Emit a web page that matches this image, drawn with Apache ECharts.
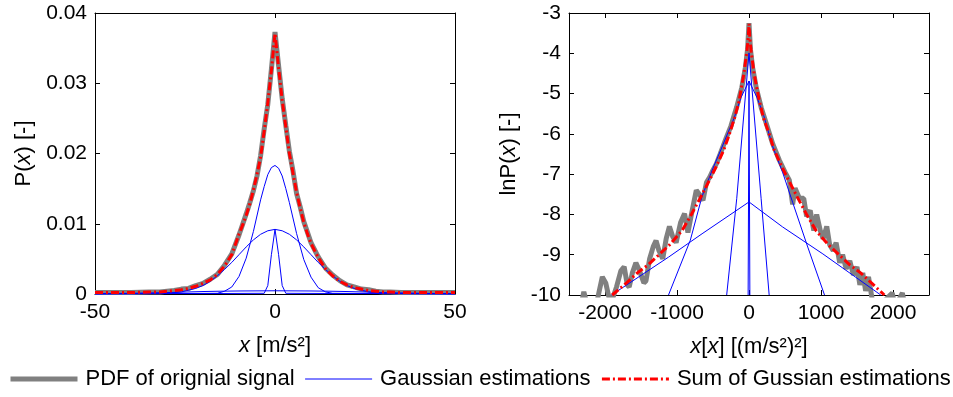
<!DOCTYPE html>
<html>
<head>
<meta charset="utf-8">
<script src="https://cdn.jsdelivr.net/npm/echarts@6/dist/echarts.min.js"></script>
<style>
html,body{margin:0;padding:0;background:#fff;}
#c{width:953px;height:397px;}
</style>
</head>
<body>
<div id="c"></div>
<script>
// ---------- Left panel: P(x) vs x [m/s²] ----------
var leftX   = [-50,-45,-40,-35,-32,-30,-28,-26,-24,-22,-20,-18,-16,-14,-12,-10,-9,-8,-7,-6,-5,-4,-3,-2,-1,0,1,2,3,4,5,6,7,8,9,10,12,14,16,18,20,22,24,26,28,30,32,35,40,45,50];
var leftSum = [0.0002,0.0002,0.0002,0.0003,0.0003,0.0004,0.0005,0.0006,0.0008,0.0011,0.0015,0.0020,0.0028,0.0040,0.0056,0.0085,0.0098,0.0112,0.0128,0.0148,0.0170,0.0195,0.0232,0.0272,0.0318,0.0371,0.0322,0.0276,0.0238,0.0200,0.0172,0.0145,0.0122,0.0102,0.0086,0.0072,0.0052,0.0036,0.0026,0.0018,0.0013,0.0009,0.0007,0.0005,0.0004,0.0003,0.0003,0.0002,0.0002,0.0002,0.0002];
var leftPdf = [0.0002,0.0002,0.0002,0.0003,0.0003,0.0004,0.0005,0.0007,0.0008,0.0012,0.0015,0.0021,0.0028,0.0041,0.0057,0.0084,0.0099,0.0114,0.0130,0.0147,0.0168,0.0197,0.0235,0.0270,0.0320,0.0373,0.0325,0.0278,0.0240,0.0203,0.0175,0.0143,0.0124,0.0103,0.0088,0.0073,0.0053,0.0037,0.0027,0.0019,0.0013,0.0010,0.0007,0.0006,0.0004,0.0003,0.0003,0.0002,0.0002,0.0002,0.0002];

var gaussCX = [-50,-16,-14,-12,-10,-8,-6,-4,-3,-2,-1,0,1,2,3,4,6,8,10,12,14,16,50];
var gaussCY = [0,0.0001,0.0004,0.0010,0.0025,0.0051,0.0089,0.0134,0.0153,0.0170,0.0180,0.0183,0.0179,0.0168,0.0150,0.0130,0.0086,0.0049,0.0024,0.0009,0.0003,0.0001,0];
var gaussBX = [-50,-30,-26,-22,-20,-18,-16,-14,-12,-10,-8,-6,-4,-2,0,2,4,6,8,10,12,14,16,18,20,22,26,30,50];
var gaussBY = [0,0.0001,0.0003,0.0008,0.0012,0.0018,0.0026,0.0035,0.0045,0.0056,0.0067,0.0077,0.0085,0.0090,0.0092,0.0090,0.0085,0.0077,0.0067,0.0056,0.0045,0.0035,0.0026,0.0018,0.0012,0.0008,0.0003,0.0001,0];
var gaussDX = [-50,-3,-2,-1,0,1,2,3,50];
var gaussDY = [0,0.0001,0.0012,0.0056,0.0092,0.0056,0.0012,0.0001,0];
var gaussAX = [-50,-40,-30,-25,-20,-15,-10,0,10,15,20,25,30,40,50];
var gaussAY = [0.00003,0.0001,0.0002,0.00028,0.00035,0.0004,0.00043,0.00046,0.00043,0.0004,0.00035,0.00028,0.0002,0.0001,0.00003];

// ---------- Right panel: lnP(x) vs x[x] [(m/s²)²] ----------
var rightSumX = [-1900,-1700,-1550,-1400,-1250,-1100,-930,-800,-650,-550,-460,-350,-280,-200,-140,-70,-30,-10,0,10,30,70,140,200,280,350,460,550,650,800,930,1100,1250,1400,1550,1700,1880];
var rightSumY = [-10,-9.7,-9.45,-9.25,-9.0,-8.75,-8.4,-8.0,-7.5,-7.15,-6.83,-6.4,-6.05,-5.6,-5.2,-4.5,-3.95,-3.6,-3.27,-3.6,-3.95,-4.5,-5.15,-5.6,-6.0,-6.4,-6.83,-7.15,-7.5,-8.0,-8.4,-8.75,-9.0,-9.25,-9.45,-9.7,-10];
var rightPdfX = [-2350,-2294,-2240,-2150,-2080,-2037,-1990,-1940,-1897,-1840,-1780,-1734,-1690,-1664,-1620,-1571,-1520,-1460,-1431,-1380,-1330,-1291,-1250,-1198,-1150,-1105,-1060,-1012,-950,-895,-848,-800,-732,-690,-639,-590,-545,-500,-452,-400,-312,-250,-172,-100,-50,-20,0,20,50,100,170,250,330,420,500,560,606,640,700,760,800,850,900,940,990,1030,1080,1120,1170,1210,1260,1300,1350,1400,1450,1500,1540,1580,1620,1660,1710,1780,1850,1990,2030,2130,2170,2250];
var rightPdfY = [-10.4,-9.92,-10.3,-10.5,-9.9,-9.55,-9.7,-10.1,-10.1,-9.8,-9.4,-9.3,-9.75,-9.8,-9.45,-9.2,-9.4,-9.7,-9.65,-9.1,-8.8,-8.65,-8.9,-9.1,-8.6,-8.3,-8.55,-8.7,-8.2,-7.98,-8.45,-8.0,-7.4,-7.5,-7.65,-7.2,-7.07,-6.9,-6.74,-6.5,-6.08,-5.8,-5.34,-4.85,-4.35,-3.9,-3.25,-3.9,-4.35,-4.85,-5.35,-5.8,-6.25,-6.65,-6.95,-7.15,-7.75,-7.35,-7.6,-7.6,-8.05,-7.9,-8.4,-8.0,-8.4,-8.6,-8.3,-8.75,-8.9,-8.7,-9.2,-9.0,-9.35,-9.15,-9.5,-9.3,-9.75,-9.45,-9.9,-9.55,-10.1,-10.3,-10.2,-9.95,-10.3,-9.95,-10.3,-10.5];
var lnAX = [-1910,-1118,-652,0,466,1026,1830];
var lnAY = [-10,-9.06,-8.48,-7.69,-8.31,-8.98,-10];
var lnBX = [-1118,-815,-652,-500,-392,-205,-112,0,112,205,326,466,606,816,1049];
var lnBY = [-10,-8.64,-7.55,-6.85,-6.4,-5.6,-5.1,-4.69,-5.1,-5.55,-6.3,-6.95,-7.7,-8.81,-10];
var lnCX = [-310,-170,0,168,280];
var lnCY = [-10,-7.6,-3.99,-7.6,-10];
var lnDX = [-12,0,12];
var lnDY = [-10,-4.69,-10];

var leftXTicks = [-50,0,50];
var leftYTicks = [0,0.01,0.02,0.03,0.04];
var rightXTicks = [-2000,-1000,0,1000,2000];
var rightYTicks = [-10,-9,-8,-7,-6,-5,-4,-3];

var names = ['PDF of orignial signal','Gaussian estimations','Sum of Gussian estimations'];

function zip(a,b){ return a.map(function(v,i){ return [v,b[i]]; }); }

var FONT = 'Liberation Sans, Arial, sans-serif';
var black = '#000';
function plain(v){ return String(v); }

function mkX(grid, pos, min, max, opts){
  var ax = {
    gridIndex: grid, type:'value', position: pos, min:min, max:max,
    axisLine:{show:true, onZero:false, lineStyle:{color:black,width:1}},
    axisTick:{show:true, inside:true, length:5, lineStyle:{color:black}},
    axisLabel:{show: pos==='bottom', color:black, fontSize:21, fontFamily:FONT, margin:8, formatter:plain},
    splitLine:{show:false}
  };
  for (var k in opts) ax[k]=opts[k];
  return ax;
}
function mkY(grid, pos, min, max, opts){
  var ax = {
    gridIndex: grid, type:'value', position: pos, min:min, max:max,
    axisLine:{show:true, onZero:false, lineStyle:{color:black,width:1}},
    axisTick:{show:true, inside:true, length:5, lineStyle:{color:black}},
    axisLabel:{show: pos==='left', color:black, fontSize:21, fontFamily:FONT, margin:8, formatter:plain},
    splitLine:{show:false}
  };
  for (var k in opts) ax[k]=opts[k];
  return ax;
}
var nameStyle = {color:black, fontSize:22, fontFamily:FONT, rich:{i:{fontStyle:'italic', fontSize:22, fontFamily:FONT, color:black}}};

var xAxes = [
  mkX(0,'bottom',-50,50,{interval:50, name:'{i|x} [m/s²]', nameLocation:'middle', nameGap:41, nameTextStyle:nameStyle}),
  mkX(0,'top',-50,50,{interval:50}),
  mkX(1,'bottom',-2500,2500,{name:'{i|x}[{i|x}] [(m/s²)²]', nameLocation:'middle', nameGap:41, nameTextStyle:nameStyle}),
  mkX(1,'top',-2500,2500,{})
];
xAxes[2].axisLabel.customValues = rightXTicks;
xAxes[2].axisTick.customValues = rightXTicks;
xAxes[3].axisTick.customValues = rightXTicks;
xAxes[3].axisLabel.customValues = rightXTicks;

var yAxes = [
  mkY(0,'left',0,0.04,{interval:0.01, name:'P({i|x}) [-]', nameLocation:'middle', nameRotate:90, nameGap:60, nameTextStyle:nameStyle}),
  mkY(0,'right',0,0.04,{interval:0.01}),
  mkY(1,'left',-10,-3,{interval:1, name:'lnP({i|x}) [-]', nameLocation:'middle', nameRotate:90, nameGap:49, nameTextStyle:nameStyle}),
  mkY(1,'right',-10,-3,{interval:1})
];

function line(name, xi, yi, data, color, width, type, z){
  return {name:name, type:'line', xAxisIndex:xi, yAxisIndex:yi, data:data, showSymbol:false, symbol:'none',
    lineStyle:{color:color, width:width, type:type||'solid', cap:'butt'}, itemStyle:{color:color},
    z:z, silent:true, clip:true};
}
var GRAY='#808080', BLUE='#0000ff', RED='#ff0000';
var dash=[8,3,2,3];

var series = [
  line(names[0],0,0,zip(leftX,leftPdf),GRAY,5,'solid',1),
  line(names[1],0,0,zip(gaussAX,gaussAY),BLUE,1,'solid',2),
  line(names[1],0,0,zip(gaussBX,gaussBY),BLUE,1,'solid',2),
  line(names[1],0,0,zip(gaussCX,gaussCY),BLUE,1,'solid',2),
  line(names[1],0,0,zip(gaussDX,gaussDY),BLUE,1,'solid',2),
  line(names[2],0,0,zip(leftX,leftSum),RED,3,dash,3),
  line(names[0],2,2,zip(rightPdfX,rightPdfY),GRAY,5,'solid',1),
  line(names[1],2,2,zip(lnAX,lnAY),BLUE,1,'solid',2),
  line(names[1],2,2,zip(lnBX,lnBY),BLUE,1,'solid',2),
  line(names[1],2,2,zip(lnCX,lnCY),BLUE,1,'solid',2),
  line(names[1],2,2,zip(lnDX,lnDY),BLUE,1,'solid',2),
  line(names[2],2,2,zip(rightSumX,rightSumY),RED,3,dash,3)
];

var legendData = [
  {name:names[0], lineStyle:{width:5, color:GRAY}},
  {name:names[1], lineStyle:{width:1, color:BLUE}},
  {name:names[2], lineStyle:{width:3, color:RED, type:dash}}
];

var chart = echarts.init(document.getElementById('c'), null, {renderer:'canvas'});
chart.setOption({
  animation:false,
  backgroundColor:'#fff',
  grid:[
    {left:95, top:13, width:360, height:281, containLabel:false},
    {left:569, top:13, width:360, height:282, containLabel:false}
  ],
  xAxis:xAxes,
  yAxis:yAxes,
  legend:{
    data:legendData, left:8, top:368, padding:0, itemWidth:67, itemHeight:12, itemGap:10,
    selectedMode:false,
    itemStyle:{color:'rgba(0,0,0,0)', borderColor:'rgba(0,0,0,0)', borderWidth:0},
    textStyle:{color:black, fontSize:22, fontFamily:FONT, padding:[0,0,0,3]}
  },
  series:series
});
</script>
</body>
</html>
